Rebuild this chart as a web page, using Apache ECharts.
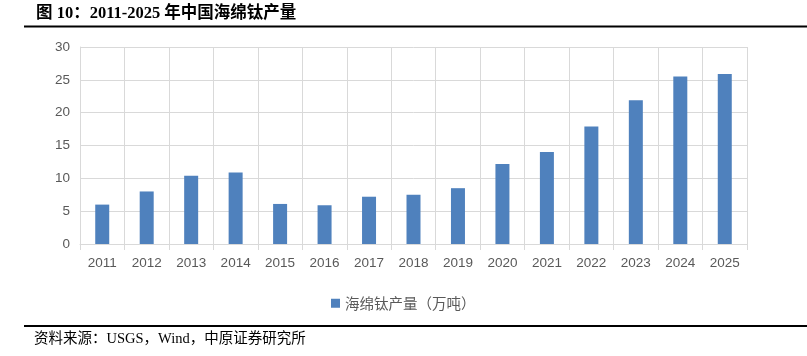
<!DOCTYPE html>
<html>
<head>
<meta charset="utf-8">
<script src="https://cdn.jsdelivr.net/npm/echarts@6/dist/echarts.min.js"></script>
<style>
html,body{margin:0;padding:0;background:#fff;}
#main{width:807px;height:356px;}
</style>
</head>
<body>
<div id="main"></div>
<script>
const years = ['2011','2012','2013','2014','2015','2016','2017','2018','2019','2020','2021','2022','2023','2024','2025'];
const output = [6.0, 8.0, 10.4, 10.9, 6.1, 5.9, 7.2, 7.5, 8.5, 12.2, 14.0, 17.9, 21.9, 25.5, 25.9];
const yTicks = [0, 5, 10, 15, 20, 25, 30];
const seriesName = '海绵钛产量（万吨）';
const titleText = '图 10：2011-2025 年中国海绵钛产量';
const sourceText = '资料来源：USGS，Wind，中原证券研究所';

const chart = echarts.init(document.getElementById('main'), null, {renderer: 'canvas'});
const cjk = '"Liberation Serif", "Noto Sans CJK SC", serif';
chart.setOption({
  animation: false,
  backgroundColor: '#ffffff',
  graphic: [
    {type: 'text', left: 36, top: 5, style: {text: titleText, font: 'bold 16.5px ' + cjk, fill: '#000'}},
    {type: 'line', shape: {x1: 24, y1: 26.5, x2: 807, y2: 26.5}, style: {stroke: '#000', lineWidth: 2}},
    {type: 'line', shape: {x1: 24, y1: 326, x2: 807, y2: 326}, style: {stroke: '#000', lineWidth: 2}},
    {type: 'text', left: 34, top: 332, style: {text: sourceText, font: '14.5px ' + cjk, fill: '#000'}}
  ],
  grid: {left: 80, right: 60, top: 47, bottom: 112, containLabel: false},
  legend: {
    data: [{name: seriesName, icon: 'rect'}], left: 326, top: 291, itemWidth: 9, itemHeight: 9, itemGap: 6,
    textStyle: {color: '#595959', fontSize: 14.5, fontFamily: '"Noto Sans CJK SC", sans-serif'}
  },
  xAxis: {
    type: 'category', data: years, boundaryGap: true,
    axisLine: {show: true, lineStyle: {color: '#d9d9d9', width: 1}},
    axisTick: {show: true, length: 6, lineStyle: {color: '#d9d9d9'}},
    splitLine: {show: true, lineStyle: {color: '#d9d9d9', width: 1}},
    axisLabel: {color: '#595959', fontSize: 13.5, margin: 12, fontFamily: 'Arial, "Liberation Sans", sans-serif'}
  },
  yAxis: {
    type: 'value', min: yTicks[0], max: yTicks[yTicks.length - 1], interval: 5,
    axisLine: {show: true, lineStyle: {color: '#d9d9d9'}},
    axisTick: {show: false},
    splitLine: {show: true, lineStyle: {color: '#d9d9d9', width: 1}},
    axisLabel: {color: '#595959', fontSize: 13.5, margin: 10, fontFamily: 'Arial, "Liberation Sans", sans-serif'}
  },
  series: [{
    name: seriesName, type: 'bar', data: output, barWidth: 14,
    itemStyle: {color: '#4f81bd'}
  }]
});
</script>
</body>
</html>
